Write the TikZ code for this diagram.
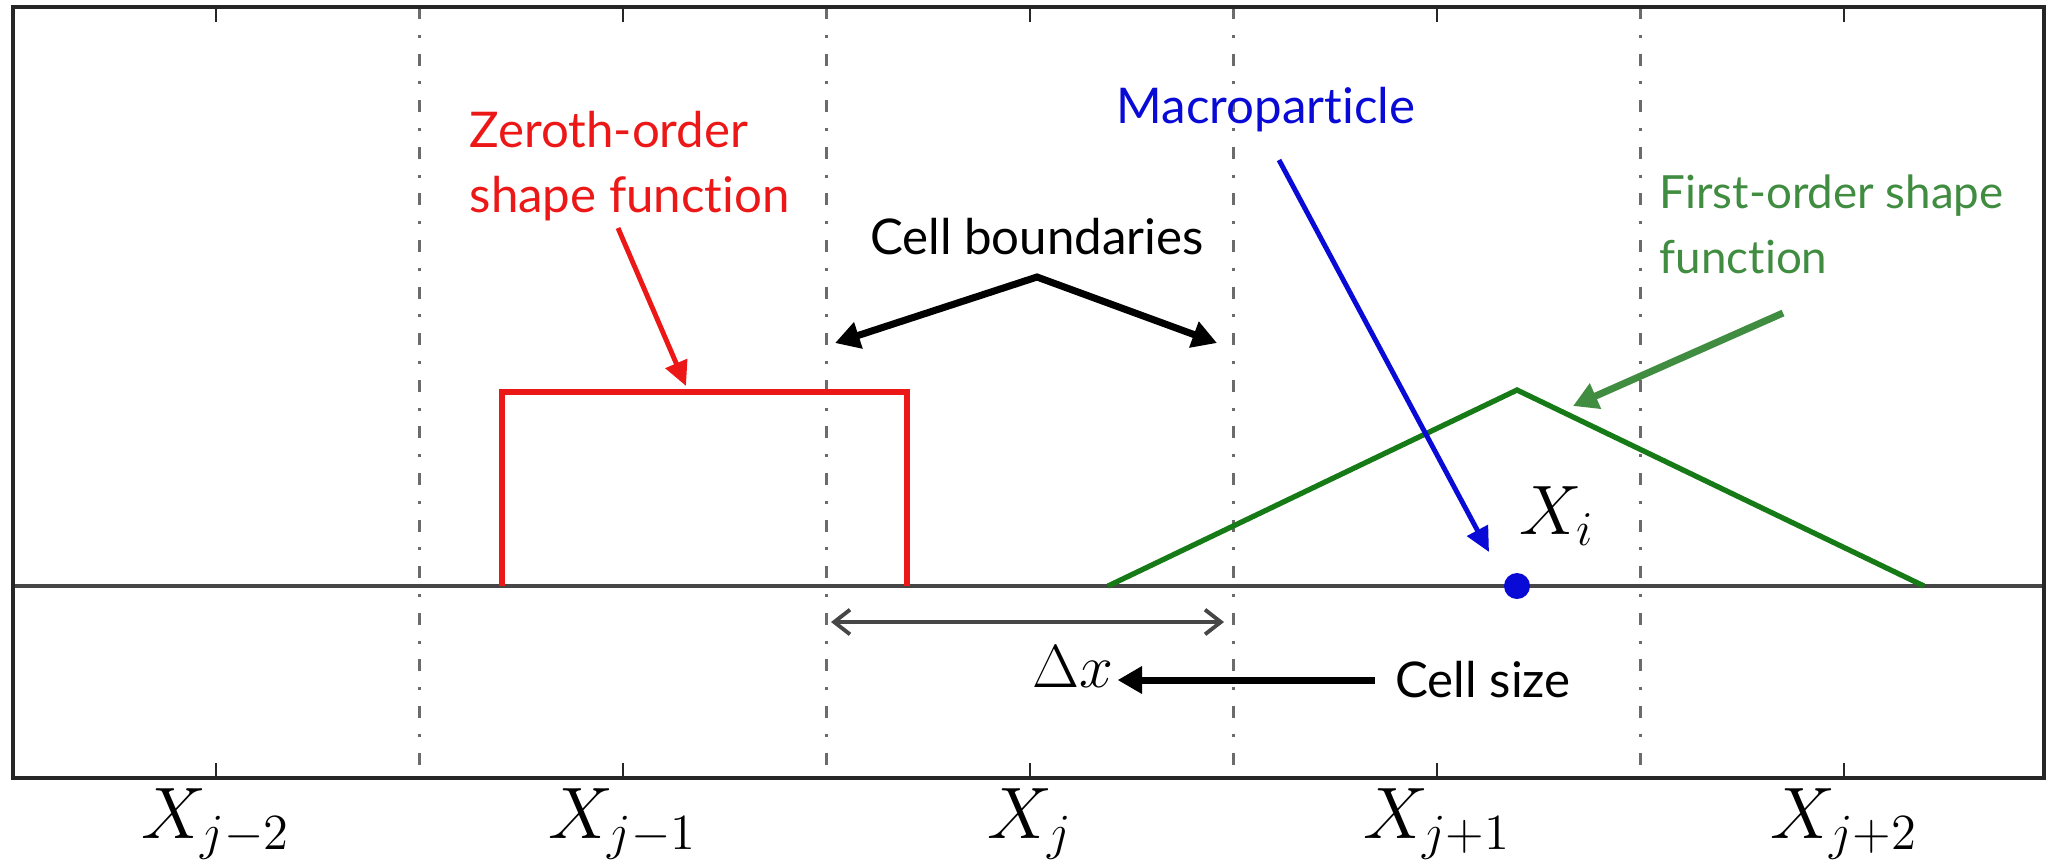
\documentclass[tikz,border=0pt]{standalone}
\usepackage[no-math]{fontspec}
\newfontfamily\gill[Ligatures=NoCommon]{Lato}
\usepackage{tikz}
\usetikzlibrary{arrows.meta, positioning, calc}
\definecolor{zred}{RGB}{236,24,24}
\definecolor{pblue}{RGB}{10,10,215}
\definecolor{fgreen}{RGB}{64,140,64}
\definecolor{tgreen}{RGB}{22,122,22}
\definecolor{dgray}{RGB}{70,70,70}
\tikzset{
	txt/.style={inner sep=0pt, align=left, font=\gill\fontsize{14}{18.5}\selectfont},
	mlbl/.style={inner sep=1pt, font=\fontsize{20.74}{24}\selectfont},
	blbl/.style={inner sep=1pt, font=\fontsize{17.28}{20}\selectfont},
	arr/.style={-{Triangle[length=7pt, width=7.5pt]}, line width=2pt},
	tarr/.style={-{Triangle[length=7pt, width=6.5pt]}, line width=1.4pt},
	dim/.style={{Straight Barb[length=4.5pt, width=7pt]}-{Straight Barb[length=4.5pt, width=7pt]},
		line width=1.1pt, draw=dgray},
	bnd/.style={draw=dgray!80, line width=0.6pt, dash pattern=on 3.4pt off 4.5pt on 0.85pt off 4.5pt},
	frm/.style={draw=black!85, line width=1.1pt},
	tk/.style={draw=black!85, line width=0.6pt},
	dot/.style={circle, fill=pblue, inner sep=0pt, minimum size=0.26cm},
}
\begin{document}
\begin{tikzpicture}[x=0.01cm, y=-0.01cm]
	\useasboundingbox (0,0) rectangle (2046,859);
	
	\foreach \k in {1,...,4}
		\draw[bnd] ({12.5+407*\k},7) -- ({12.5+407*\k},778);
	\foreach \k/\lab in {0/{j-2}, 1/{j-1}, 2/j, 3/{j+1}, 4/{j+2}} {
		\draw[tk] ({216+407*\k},7) -- ++(0,15);
		\draw[tk] ({216+407*\k},778) -- ++(0,-15);
		\node[mlbl] (x\k) at ({216+407*\k},824) {$X_{\lab}$};
	}
	\draw[dgray, line width=0.9pt] (13,586) -- (2044,586);
	\draw[frm] (13,7) rectangle (2044,778);
	
	\draw[zred, line width=1.9pt] (502,586) -- (502,392) -- (907,392) -- (907,586);
	\draw[tgreen, line width=1.5pt] (1108,586) -- (1517,390) -- (1924,586);
	\node[dot] (part) at (1517,586) {};
	\node[mlbl, scale=0.96] (xi) at (1557,516) {$X_i$};
	
	\node[txt, text=zred, anchor=west] (zeroth) at (469,166) {Zeroth-order\\shape function};
	\node[txt] (cellb) at (1037,237) {Cell boundaries};
	\node[txt, text=pblue] (macro) at (1266,110) {Macroparticle};
	\node[txt, text=fgreen, anchor=west, font=\gill\fontsize{13}{18.5}\selectfont] (first) at (1659,224) {First-order shape\\function};
	\node[txt, inner xsep=5.5pt] (csize) at (1483,680) {Cell size};
	\node[blbl] (dx) at (1073,667) {$\Delta x$};
	
	\coordinate (cbtop) at (1037,277);
	\coordinate (cbl) at (835,343);
	\coordinate (cbr) at (1217,343);
	\coordinate (zs) at (618,228);
	\coordinate (zt) at (686,386);
	\coordinate (ms) at (1279,160);
	\coordinate (mt) at (1489,552);
	\coordinate (fs) at (1783,313);
	\coordinate (ft) at (1573,406);
	\coordinate (dxl) at (831,622);
	\coordinate (dxr) at (1224,622);
	
	\draw[arr, {Triangle[length=7pt, width=7.5pt]}-{Triangle[length=7pt, width=7.5pt]}] (cbl) -- (cbtop) -- (cbr);
	\draw[tarr, zred] (zs) -- (zt);
	\draw[tarr, pblue] (ms) -- (mt);
	\draw[arr, fgreen] (fs) -- (ft);
	\draw[arr] (csize.west) -- (csize.west -| dx.east);
	\draw[dim] (dxl) -- (dxr);
\end{tikzpicture}
\end{document}
